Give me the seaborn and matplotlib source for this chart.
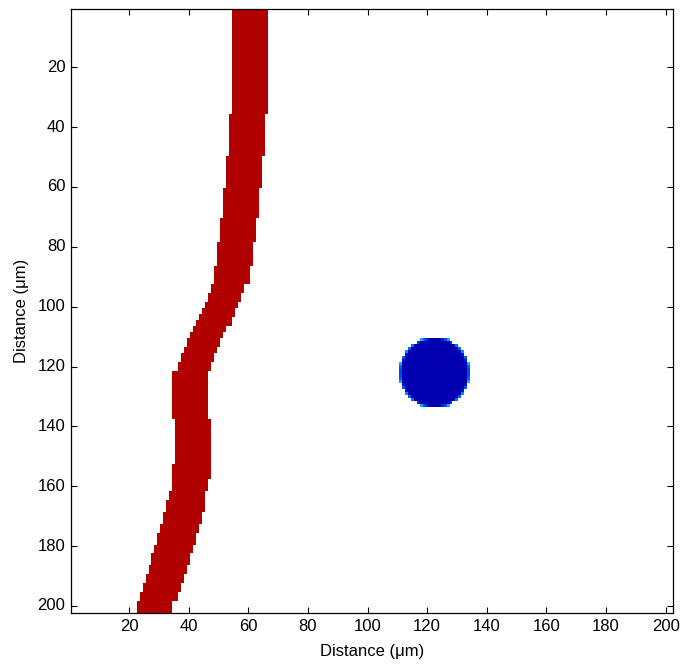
import numpy as np
import pandas as pd
import seaborn as sns
import matplotlib.pyplot as plt
from matplotlib.colors import LinearSegmentedColormap

# Grid of the map (cells 1..202 in both directions)
distance = np.arange(1, 203)
tick_values = [20, 40, 60, 80, 100, 120, 140, 160, 180, 200]

# Red band: left / right edge column starting at each row
left_rows = [1, 36, 50, 61, 71, 79, 87, 93, 96, 99, 101, 103, 105, 107, 109, 111, 114, 116, 119, 122,
             138, 153, 162, 165, 169, 173, 176, 180, 183, 187, 190, 193, 196, 199]
left_cols = [55, 54, 53, 52, 51, 50, 49, 48, 47, 46, 45, 44, 43, 42, 41, 40, 39, 38, 37, 35,
             36, 35, 34, 33, 32, 31, 30, 29, 28, 27, 26, 25, 24, 23]
right_rows = [1, 36, 50, 61, 71, 79, 87, 93, 96, 99, 101, 104, 107, 109, 111, 114, 116, 119, 122,
              138, 158, 162, 169, 173, 176, 180, 183, 187, 190, 193, 196, 199]
right_cols = [66, 65, 64, 63, 62, 61, 60, 58, 57, 56, 55, 54, 52, 51, 50, 49, 48, 47, 46,
              47, 46, 45, 44, 43, 42, 41, 40, 39, 38, 37, 36, 34]

# Blue disc
disc_col = 122.5
disc_row = 122
disc_radius = 11.6

# Build the map
rr, cc = np.meshgrid(distance, distance, indexing='ij')
values = np.full(rr.shape, np.nan)

left = np.array(left_cols)[np.searchsorted(left_rows, distance, side='right') - 1]
right = np.array(right_cols)[np.searchsorted(right_rows, distance, side='right') - 1]
band = (cc >= left[:, None]) & (cc <= right[:, None])
values[band] = 1.0

# partly covered edge cells of the disc come out lighter (cyan)
dist = np.hypot(cc - disc_col, rr - disc_row)
cover = np.clip(disc_radius + 0.5 - dist, 0, 1)
disc = cover > 0.2
values[disc] = 0.35 * (1 - cover[disc])

df = pd.DataFrame(values, index=distance, columns=distance)

cmap = LinearSegmentedColormap.from_list(
    'map', [(0.0, '#0000B0'), (0.2, '#0060FF'), (0.35, '#00FFFF'), (1.0, '#B00000')])

sns.set_theme(style='white')
plt.rcParams['font.family'] = ['Liberation Sans', 'DejaVu Sans']

fig = plt.figure(figsize=(6.81, 6.65), dpi=100)
ax = fig.add_axes([0.1043, 0.0777, 0.8840, 0.9088])
sns.heatmap(df, mask=np.isnan(values), cmap=cmap, vmin=0, vmax=1, cbar=False, ax=ax,
            xticklabels=False, yticklabels=False)

ax.set_xlim(0, 202)
ax.set_ylim(202, 0)
ax.set_xticks([t - 0.5 for t in tick_values])
ax.set_xticklabels(tick_values, rotation=0)
ax.set_yticks([t - 0.5 for t in tick_values])
ax.set_yticklabels(tick_values, rotation=0, va='center')

for s in ax.spines.values():
    s.set_visible(True)
    s.set_color('black')
    s.set_linewidth(0.9)

ax.tick_params(direction='in', top=True, right=True, bottom=True, left=True,
               length=4, width=0.8, color='black', labelsize=12, labelcolor='black', pad=4)
ax.set_xlabel('Distance (\u03bcm)', fontsize=12, color='black', labelpad=7)
ax.set_ylabel('Distance (\u03bcm)', fontsize=12, color='black', labelpad=6)

fig.savefig('out.png', dpi=100)
